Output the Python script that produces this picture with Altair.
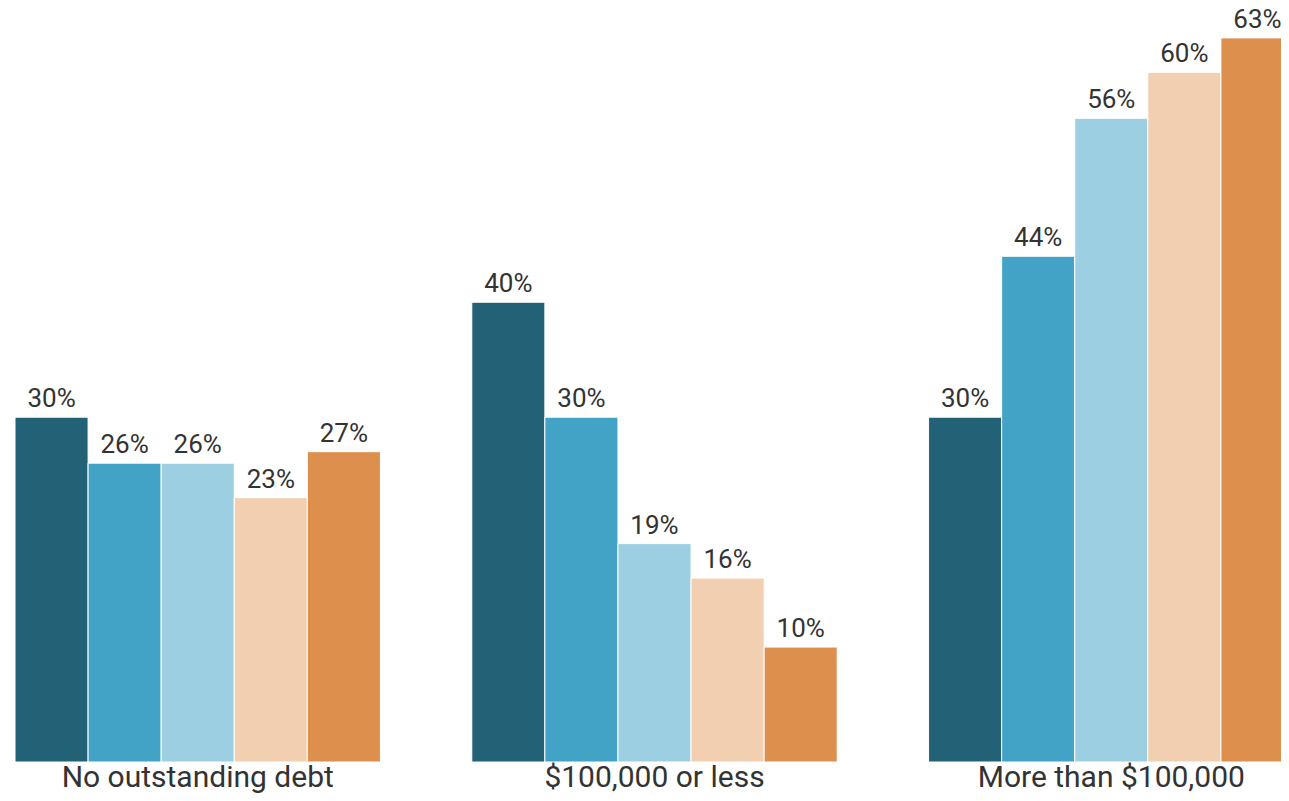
import altair as alt
import pandas as pd

groups = ["No outstanding debt", "$100,000 or less", "More than $100,000"]
series = ["Group 1", "Group 2", "Group 3", "Group 4", "Group 5"]
values = {
    "No outstanding debt": [30, 26, 26, 23, 27],
    "$100,000 or less": [40, 30, 19, 16, 10],
    "More than $100,000": [30, 44, 56, 60, 63],
}
colors = ["#236176", "#42a3c7", "#9dcfe2", "#f2cfb0", "#dd904d"]

rows = []
for g in groups:
    for s, v in zip(series, values[g]):
        rows.append({"group": g, "series": s, "value": v, "label": f"{v}%"})
df = pd.DataFrame(rows)

x = alt.X(
    "group:N",
    sort=groups,
    scale=alt.Scale(range=[7, 1286], paddingInner=0.2, paddingOuter=0),
    axis=alt.Axis(
        title=None, labelAngle=0, domain=False, ticks=False,
        labelFontSize=30, labelFont="Roboto", labelColor="#333333",
        labelPadding=0, labelLimit=0,
    ),
)
xo = alt.XOffset("series:N", sort=series, scale=alt.Scale(paddingInner=0.0))
y = alt.Y("value:Q", scale=alt.Scale(domain=[0, 65.6], nice=False), axis=None)

base = alt.Chart(df)
bars = base.mark_bar(stroke="white", strokeWidth=1).encode(
    x=x, xOffset=xo, y=y,
    color=alt.Color("series:N", sort=series, scale=alt.Scale(domain=series, range=colors), legend=None),
)
text = base.mark_text(
    font="Roboto", fontSize=26, color="#333333", baseline="alphabetic", dy=-10
).encode(x=x, xOffset=xo, y=y, text="label:N")

chart = (bars + text).properties(
    width=1273, height=754,
    padding={"left": 0, "top": 0, "right": 0, "bottom": 31},
    autosize=alt.AutoSizeParams(type="none"),
).configure_view(stroke=None)
chart.save("out.html", embed_options={"renderer": "svg", "actions": False})
